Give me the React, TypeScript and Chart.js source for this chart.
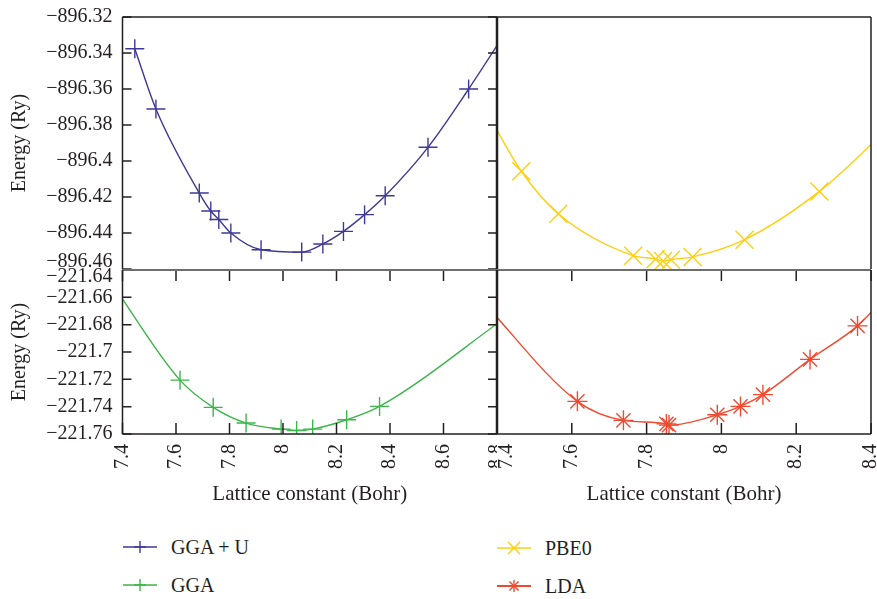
import React, { useEffect, useRef } from 'react';
import { Chart, registerables } from 'chart.js';

Chart.register(...registerables);

// ---------- data ----------
const seriesNames = ['GGA + U', 'PBE0', 'GGA', 'LDA'];

const xTicksLeft = [7.4, 7.6, 7.8, 8.0, 8.2, 8.4, 8.6, 8.8];
const xTicksRight = [7.4, 7.6, 7.8, 8.0, 8.2, 8.4];
const yTicksTop = [-896.32, -896.34, -896.36, -896.38, -896.4, -896.42, -896.44, -896.46];
const yTicksBottom = [-221.64, -221.66, -221.68, -221.7, -221.72, -221.74, -221.76];

const ggaUX = [7.446, 7.525, 7.687, 7.73, 7.76, 7.805, 7.918, 8.07, 8.149, 8.226, 8.305, 8.382, 8.542, 8.694, 8.86];
const ggaUY = [-896.3376, -896.3711, -896.4178, -896.4278, -896.4325, -896.44, -896.4493, -896.4506, -896.4461, -896.4391, -896.4298, -896.4193, -896.3924, -896.36, -896.322];

const pbe0X = [7.36, 7.465, 7.564, 7.764, 7.824, 7.844, 7.865, 7.923, 8.062, 8.262, 8.44];
const pbe0Y = [-896.368, -896.4057, -896.4293, -896.4526, -896.4544, -896.4556, -896.4548, -896.4533, -896.4437, -896.4169, -896.383];

const ggaX = [7.36, 7.615, 7.739, 7.862, 7.993, 8.051, 8.111, 8.238, 8.361, 8.84];
const ggaY = [-221.6497, -221.7206, -221.7405, -221.752, -221.7564, -221.7574, -221.7564, -221.7496, -221.7398, -221.6737];

const ldaX = [7.36, 7.615, 7.738, 7.853, 7.86, 7.989, 8.051, 8.111, 8.237, 8.364, 8.44];
const ldaY = [-221.6626, -221.7361, -221.75, -221.7526, -221.7535, -221.7459, -221.7398, -221.7312, -221.7054, -221.6809, -221.6595];

const xTitle = 'Lattice constant (Bohr)';
const yTitle = 'Energy (Ry)';

// ---------- styles ----------
const TEXT = '#231f20';
const FONT = "'Liberation Serif', 'Times New Roman', 'DejaVu Serif', serif";
const colors = ['#3e3994', '#ffcf0f', '#3cb54a', '#ef4a2f'];
const markers = ['cross', 'crossRot', 'cross', 'star'];
const radii = [9.5, 12.7, 9.5, 10];

Chart.defaults.font.family = FONT;
Chart.defaults.color = TEXT;

const fmt = (v: number) => String(Number(v.toFixed(2))).replace('-', '\u2212');
const same = (a: number, b: number) => Math.abs(a - b) < 1e-9;

type Border = { color: string; width: number } | null;
type FrameOpts = {
  yLeft?: boolean; yRight?: boolean; xTop?: boolean; xBottom?: boolean;
  top?: Border; right?: Border; bottom?: Border; left?: Border;
};

const framePlugin = {
  id: 'frame',
  afterDatasetsDraw(chart: any, _a: any, o: FrameOpts) {
    const { ctx, chartArea: a } = chart;
    const xs = chart.scales.x;
    const ys = chart.scales.y;
    ctx.save();
    ctx.lineCap = 'butt';
    ctx.strokeStyle = TEXT;
    ctx.lineWidth = 1.5;
    ctx.beginPath();
    const xl = 11;
    const yl = 9;
    if (o.xTop || o.xBottom) {
      for (const t of xs.ticks) {
        const px = xs.getPixelForValue(t.value);
        if (o.xTop) { ctx.moveTo(px, a.top); ctx.lineTo(px, a.top + xl); }
        if (o.xBottom) { ctx.moveTo(px, a.bottom); ctx.lineTo(px, a.bottom - xl); }
      }
    }
    if (o.yLeft || o.yRight) {
      for (const t of ys.ticks) {
        const py = ys.getPixelForValue(t.value);
        if (o.yLeft) { ctx.moveTo(a.left, py); ctx.lineTo(a.left + yl, py); }
        if (o.yRight) { ctx.moveTo(a.right, py); ctx.lineTo(a.right - yl, py); }
      }
    }
    ctx.stroke();
    const sides: [Border | undefined, number, number, number, number][] = [
      [o.top, a.left, a.top, a.right, a.top],
      [o.right, a.right, a.top, a.right, a.bottom],
      [o.bottom, a.left, a.bottom, a.right, a.bottom],
      [o.left, a.left, a.top, a.left, a.bottom],
    ];
    for (const [b, x1, y1, x2, y2] of sides) {
      if (!b) continue;
      ctx.strokeStyle = b.color;
      ctx.lineWidth = b.width;
      ctx.beginPath();
      ctx.moveTo(x1, y1);
      ctx.lineTo(x2, y2);
      ctx.stroke();
    }
    ctx.restore();
  },
};

type Panel = {
  idx: number; xs: number[]; ys: number[];
  xMin: number; xMax: number; xTicks: number[];
  yMin: number; yMax: number; yTicks: number[];
  showX: boolean; showY: boolean;
  box: { left: number; top: number; width: number; height: number };
  padding: { left: number; top: number; right: number; bottom: number };
  frame: FrameOpts;
  yLabel: (v: number) => string | string[];
  xLabel: (v: number) => string | string[];
};

const dark = { color: TEXT, width: 1.5 };
const mid = { color: TEXT, width: 2.5 };
const junction = { color: '#6e6e6e', width: 2 };

const panels: Panel[] = [
  {
    idx: 0, xs: ggaUX, ys: ggaUY, xMin: 7.4, xMax: 8.8, xTicks: xTicksLeft,
    yMin: -896.46, yMax: -896.32, yTicks: yTicksTop, showX: false, showY: true,
    box: { left: 0, top: 0, width: 497, height: 270 },
    padding: { left: 0, top: 17, right: 0, bottom: 1 },
    frame: { yLeft: true, yRight: true, top: dark, left: dark, right: mid },
    yLabel: (v) => (same(v, yTicksTop[yTicksTop.length - 1]) ? [fmt(v), ''] : fmt(v)),
    xLabel: (v) => fmt(v),
  },
  {
    idx: 1, xs: pbe0X, ys: pbe0Y, xMin: 7.4, xMax: 8.4, xTicks: xTicksRight,
    yMin: -896.46, yMax: -896.32, yTicks: yTicksTop, showX: false, showY: false,
    box: { left: 497, top: 0, width: 380, height: 270 },
    padding: { left: 0, top: 17, right: 6, bottom: 1 },
    frame: { top: dark, right: dark, left: mid },
    yLabel: (v) => fmt(v),
    xLabel: (v) => fmt(v),
  },
  {
    idx: 2, xs: ggaX, ys: ggaY, xMin: 7.4, xMax: 8.8, xTicks: xTicksLeft,
    yMin: -221.76, yMax: -221.64, yTicks: yTicksBottom, showX: true, showY: true,
    box: { left: 0, top: 258, width: 497, height: 254 },
    padding: { left: 0, top: 12, right: 0, bottom: 0 },
    frame: { yLeft: true, yRight: true, xTop: true, xBottom: true, top: junction, left: dark, bottom: dark, right: mid },
    yLabel: (v) => (same(v, yTicksBottom[0]) ? ['', fmt(v)] : fmt(v)),
    xLabel: (v) => fmt(v),
  },
  {
    idx: 3, xs: ldaX, ys: ldaY, xMin: 7.4, xMax: 8.4, xTicks: xTicksRight,
    yMin: -221.76, yMax: -221.64, yTicks: yTicksBottom, showX: true, showY: false,
    box: { left: 497, top: 258, width: 380, height: 254 },
    padding: { left: 0, top: 12, right: 6, bottom: 0 },
    frame: { xTop: true, xBottom: true, top: junction, right: dark, bottom: dark, left: mid },
    yLabel: (v) => fmt(v),
    xLabel: (v) => (same(v, xTicksRight[0]) ? ['', fmt(v)] : fmt(v)),
  },
];

function makeChart(canvas: HTMLCanvasElement, p: Panel) {
  const color = colors[p.idx];
  return new Chart(canvas, {
    type: 'line',
    data: {
      datasets: [
        {
          label: seriesNames[p.idx],
          data: p.xs.map((x, i) => ({ x, y: p.ys[i] })),
          borderColor: color,
          backgroundColor: color,
          borderWidth: 1.4,
          pointStyle: markers[p.idx] as any,
          pointRadius: radii[p.idx],
          pointHoverRadius: radii[p.idx],
          pointBorderWidth: 1.4,
          pointBorderColor: color,
          cubicInterpolationMode: 'monotone',
          clip: 0 as any,
          fill: false,
        },
      ],
    },
    options: {
      animation: false,
      responsive: false,
      events: [],
      layout: { padding: p.padding, autoPadding: false },
      plugins: {
        legend: { display: false },
        tooltip: { enabled: false },
        frame: p.frame,
      } as any,
      scales: {
        x: {
          type: 'linear',
          min: p.xMin,
          max: p.xMax,
          display: p.showX,
          afterBuildTicks: (s: any) => { s.ticks = p.xTicks.map((v) => ({ value: v })); },
          afterFit: (s: any) => {
            if (p.showX) s.height = 78;
            s.paddingLeft = 0;
            s.paddingRight = 0;
          },
          grid: { display: false, drawTicks: false },
          border: { display: false },
          ticks: {
            autoSkip: false,
            minRotation: 90,
            maxRotation: 90,
            padding: 10,
            color: TEXT,
            font: { size: 20, lineHeight: 0.5 },
            callback: (v: any) => p.xLabel(Number(v)),
          },
          title: {
            display: true,
            text: xTitle,
            color: TEXT,
            font: { size: 21 },
            padding: { top: 0, bottom: 5 },
          },
        },
        y: {
          type: 'linear',
          min: p.yMin,
          max: p.yMax,
          display: p.showY,
          afterBuildTicks: (s: any) => { s.ticks = p.yTicks.map((v) => ({ value: v })); },
          afterFit: (s: any) => {
            if (p.showY) s.width = 122.5;
            s.paddingTop = 0;
            s.paddingBottom = 0;
          },
          grid: { display: false, drawTicks: false },
          border: { display: false },
          ticks: {
            autoSkip: false,
            padding: 10,
            color: TEXT,
            font: { size: 20, lineHeight: 0.7 },
            callback: (v: any) => p.yLabel(Number(v)),
          },
          title: {
            display: true,
            text: yTitle,
            color: TEXT,
            font: { size: 20 },
            padding: { top: 8, bottom: 0 },
          },
        },
      },
    } as any,
    plugins: [framePlugin as any],
  });
}

function LegendIcon({ idx, left, top }: { idx: number; left: number; top: number }) {
  const c = colors[idx];
  const m = markers[idx];
  const w = 34;
  const cx = 17;
  const cy = 10;
  const r = 6;
  const d = m === 'star' ? 4.6 : 6;
  const sw = 1.4;
  return (
    <svg width={w} height={20} style={{ position: 'absolute', left, top: top - 10 }}>
      <line x1={0} y1={cy} x2={w} y2={cy} stroke={c} strokeWidth={idx === 3 ? 2 : 1.5} />
      {(m === 'cross' || m === 'star') && (
        <>
          <line x1={cx - r} y1={cy} x2={cx + r} y2={cy} stroke={c} strokeWidth={sw} />
          <line x1={cx} y1={cy - r} x2={cx} y2={cy + r} stroke={c} strokeWidth={sw} />
        </>
      )}
      {(m === 'crossRot' || m === 'star') && (
        <>
          <line x1={cx - d} y1={cy - d} x2={cx + d} y2={cy + d} stroke={c} strokeWidth={sw} />
          <line x1={cx - d} y1={cy + d} x2={cx + d} y2={cy - d} stroke={c} strokeWidth={sw} />
        </>
      )}
    </svg>
  );
}

const legendSlots = [
  { idx: 0, icon: 123, text: 171, y: 547 },
  { idx: 1, icon: 497, text: 545, y: 548 },
  { idx: 2, icon: 123, text: 171, y: 585 },
  { idx: 3, icon: 497, text: 545, y: 586 },
];

export default function App() {
  const canvasRefs = useRef<(HTMLCanvasElement | null)[]>([]);

  useEffect(() => {
    const charts = panels.map((p, i) => makeChart(canvasRefs.current[i] as HTMLCanvasElement, p));
    return () => {
      charts.forEach((c) => c.destroy());
    };
  }, []);

  return (
    <div
      style={{
        position: 'absolute',
        left: 0,
        top: 0,
        width: 877,
        height: 599,
        background: '#ffffff',
        fontFamily: FONT,
        color: TEXT,
        overflow: 'hidden',
      }}
    >
      {panels.map((p, i) => (
        <canvas
          key={i}
          ref={(el) => { canvasRefs.current[i] = el; }}
          width={p.box.width}
          height={p.box.height}
          style={{
            position: 'absolute',
            left: p.box.left,
            top: p.box.top,
            width: p.box.width,
            height: p.box.height,
          }}
        />
      ))}
      {legendSlots.map((s) => (
        <React.Fragment key={s.idx}>
          <LegendIcon idx={s.idx} left={s.icon} top={s.y} />
          <span
            style={{
              position: 'absolute',
              left: s.text,
              top: s.y - 10,
              fontSize: 20,
              lineHeight: '20px',
              whiteSpace: 'nowrap',
            }}
          >
            {seriesNames[s.idx]}
          </span>
        </React.Fragment>
      ))}
    </div>
  );
}
